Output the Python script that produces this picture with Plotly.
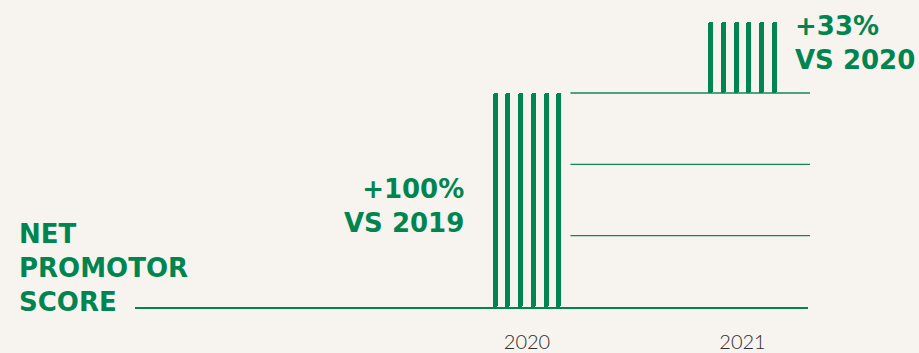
import plotly.graph_objects as go

# Net Promoter Score, indexed units (2021 is drawn as the step above 2020)
years = [2020, 2021]
nps = [3, 4]
gridline_values = [1, 2, 3]
year_labels = ["2020", "2021"]
change_labels = ["+100%<br>VS 2019", "+33%<br>VS 2020"]
title_text = "NET<br>PROMOTOR<br>SCORE"

GREEN = "#008550"
BG = "#F7F3EE"
GREY = "#2E2E2E"

STRIPES = 6
STRIPE_GAP = 0.0589     # x-units between stripe centres
STRIPE_W = 0.0235       # x-units stripe width

fig = go.Figure()

prev = 0
for yr, val in zip(years, nps):
    offsets = [(i - (STRIPES - 1) / 2) * STRIPE_GAP for i in range(STRIPES)]
    fig.add_trace(go.Bar(
        x=[yr + o for o in offsets],
        y=[val - prev] * STRIPES,
        base=[prev] * STRIPES,
        width=STRIPE_W,
        marker=dict(color=GREEN, line=dict(width=0), cornerradius=3),
        hoverinfo="skip",
        showlegend=False,
    ))
    prev = val

# horizontal guide lines to the right of the 2020 bar
for gv in gridline_values:
    fig.add_shape(type="line", xref="paper", yref="y",
                  x0=0.647, x1=1.003, y0=gv, y1=gv,
                  line=dict(color="#13875A", width=1.3), layer="below")

bold = dict(family="DejaVu Sans", size=26, color=GREEN, weight="bold")

fig.add_annotation(text=title_text, xref="paper", yref="paper",
                   x=-0.176, y=0.13, xanchor="left", yanchor="middle",
                   align="left", showarrow=False, font=bold)
fig.add_annotation(text=change_labels[0], xref="paper", yref="paper",
                   x=0.492, y=0.34, xanchor="right", yanchor="middle",
                   align="right", showarrow=False, font=bold)
fig.add_annotation(text=change_labels[1], xref="paper", yref="paper",
                   x=0.977, y=0.888, xanchor="left", yanchor="middle",
                   align="left", showarrow=False, font=bold)

fig.update_layout(
    width=919, height=353,
    margin=dict(l=135, r=111, t=10, b=46, autoexpand=False),
    paper_bgcolor=BG, plot_bgcolor=BG,
    barmode="overlay",
    bargap=0,
    xaxis=dict(range=[2018.181, 2021.304], tickvals=years, ticktext=year_labels,
               showgrid=False, zeroline=False, showline=True, automargin=False,
               linecolor=GREEN, linewidth=1.5,
               ticks="outside", ticklen=16, tickcolor="rgba(0,0,0,0)",
               tickfont=dict(family="Lato", size=20, color=GREY, weight=300)),
    yaxis=dict(range=[0, 4.164], showgrid=False, zeroline=False, automargin=False,
               showticklabels=False, showline=False),
)

fig.write_html("out.html")
